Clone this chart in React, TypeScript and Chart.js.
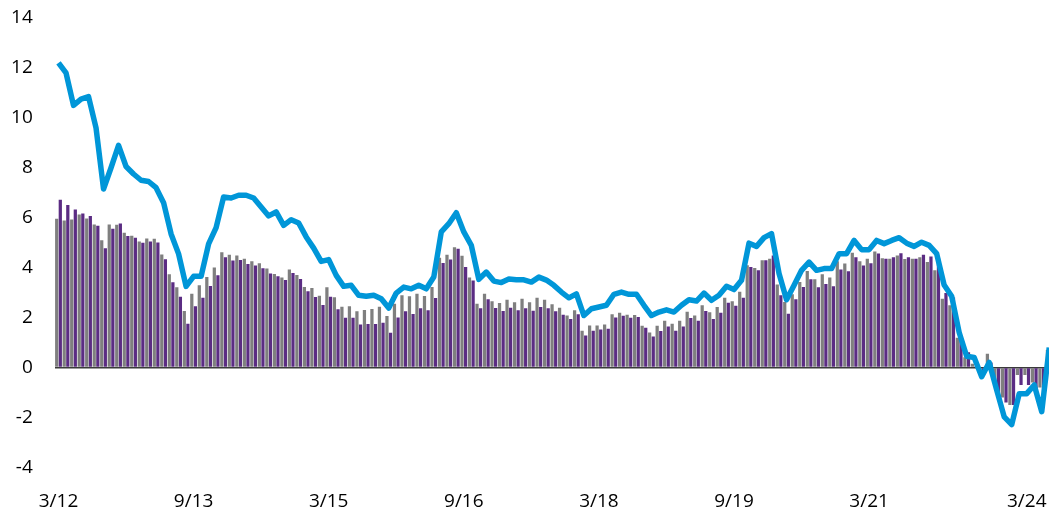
import { useEffect, useRef } from "react";
import { Chart, registerables } from "chart.js";

Chart.register(...registerables);

// Monthly categories, starting March 2012
const startYear = 2012;
const startMonth = 3;
const monthCount = 133;
const categories: string[] = [];
for (let i = 0; i < monthCount; i++) {
  const m = ((startMonth - 1 + i) % 12) + 1;
  const y = startYear + Math.floor((startMonth - 1 + i) / 12);
  categories.push(`${m}/${String(y).slice(2)}`);
}

// Shown tick labels and the category index each one sits on
const tickLabelTexts = ["3/12", "9/13", "3/15", "9/16", "3/18", "9/19", "3/21", "3/24"];
const tickLabelIndices = [0, 18, 36, 54, 72, 90, 108, 129];

const yTickMin = -4;
const yTickMax = 14;
const yTickStep = 2;

const grayValues = [
  5.96, 5.89, 5.93, 6.13, 5.97, 5.73, 5.1, 5.73, 5.72, 5.4,
  5.28, 5.05, 5.17, 5.16, 4.53, 3.73, 3.21, 2.26, 2.95, 3.29,
  3.62, 4.0, 4.62, 4.52, 4.49, 4.36, 4.25, 4.17, 3.96, 3.74,
  3.6, 3.92, 3.7, 3.22, 3.18, 2.87, 3.21, 2.81, 2.43, 2.45,
  2.25, 2.3, 2.34, 2.43, 2.06, 2.55, 2.89, 2.85, 2.95, 2.86,
  3.22, 4.4, 4.52, 4.82, 4.48, 3.6, 2.55, 2.95, 2.65, 2.58,
  2.71, 2.61, 2.75, 2.61, 2.79, 2.71, 2.53, 2.39, 2.08, 2.29,
  1.47, 1.68, 1.68, 1.72, 2.13, 2.19, 2.11, 2.1, 1.67, 1.4,
  1.67, 1.87, 1.75, 1.87, 2.23, 2.08, 2.49, 2.21, 2.42, 2.79,
  2.65, 3.03, 4.09, 3.98, 4.29, 4.36, 3.32, 2.62, 2.93, 3.42,
  3.86, 3.53, 3.73, 3.6, 4.25, 4.16, 4.6, 4.25, 4.36, 4.65,
  4.38, 4.36, 4.49, 4.34, 4.36, 4.42, 4.22, 3.89, 2.75, 2.49,
  1.19, 0.41, 0.15, -0.1, 0.55, -0.6, -1.2, -1.5, -0.3, -0.3,
  -0.6, -0.8, 0.7,
];

const purpleValues = [
  6.72, 6.51, 6.33, 6.17, 6.07, 5.68, 4.78, 5.56, 5.77, 5.27,
  5.2, 5.0, 5.05, 5.01, 4.33, 3.41, 2.83, 1.75, 2.45, 2.79,
  3.26, 3.69, 4.42, 4.28, 4.3, 4.14, 4.08, 3.97, 3.76, 3.65,
  3.5, 3.78, 3.54, 3.05, 2.82, 2.5, 2.83, 2.33, 1.99, 1.99,
  1.72, 1.74, 1.74, 1.79, 1.39, 2.0, 2.25, 2.14, 2.37, 2.29,
  2.78, 4.18, 4.32, 4.76, 4.02, 3.48, 2.37, 2.73, 2.38, 2.26,
  2.39, 2.29, 2.37, 2.27, 2.42, 2.37, 2.25, 2.11, 1.94, 2.13,
  1.28, 1.47, 1.52, 1.55, 2.0, 2.07, 1.99, 2.02, 1.59, 1.24,
  1.46, 1.64, 1.47, 1.64, 1.98, 1.87, 2.26, 1.94, 2.19, 2.59,
  2.47, 2.79, 4.02, 3.89, 4.29, 4.49, 2.89, 2.15, 2.73, 3.22,
  3.53, 3.21, 3.34, 3.25, 3.92, 3.85, 4.42, 4.08, 4.17, 4.57,
  4.36, 4.42, 4.58, 4.42, 4.36, 4.52, 4.45, 4.4, 2.98, 2.8,
  1.1, 0.61, 0.05, -0.2, 0.2, -1.0, -1.4, -1.5, -0.7, -0.7,
  -0.9, -1.0, 0.6,
];

const lineValues = [
  12.2, 11.8, 10.5, 10.75, 10.85, 9.6, 7.15, 8.0, 8.9, 8.05,
  7.75, 7.5, 7.45, 7.2, 6.6, 5.35, 4.55, 3.25, 3.65, 3.65,
  4.95, 5.6, 6.83, 6.79, 6.9, 6.9, 6.79, 6.43, 6.07, 6.23,
  5.69, 5.92, 5.79, 5.23, 4.78, 4.25, 4.32, 3.69, 3.25, 3.29,
  2.89, 2.85, 2.89, 2.75, 2.38, 2.98, 3.22, 3.15, 3.29, 3.15,
  3.62, 5.43, 5.76, 6.2, 5.43, 4.89, 3.53, 3.82, 3.46, 3.4,
  3.54, 3.51, 3.51, 3.42, 3.62, 3.5, 3.29, 3.02, 2.79, 2.95,
  2.08, 2.35, 2.42, 2.49, 2.93, 3.02, 2.93, 2.93, 2.49, 2.08,
  2.22, 2.31, 2.22, 2.49, 2.71, 2.66, 2.98, 2.69, 2.89, 3.25,
  3.12, 3.49, 4.98, 4.85, 5.2, 5.36, 3.76, 2.71, 3.29, 3.89,
  4.22, 3.89, 3.96, 3.96, 4.56, 4.56, 5.09, 4.72, 4.72, 5.09,
  4.96, 5.09, 5.2, 4.98, 4.85, 5.02, 4.89, 4.56, 3.3, 2.85,
  1.4, 0.45, 0.4, -0.37, 0.2, -0.9, -1.98, -2.29, -1.05, -1.05,
  -0.7, -1.77, 0.8,
];

const FONT = "'Open Sans', 'Noto Sans', sans-serif";

export default function App() {
  const ref = useRef<HTMLCanvasElement | null>(null);

  useEffect(() => {
    document.documentElement.style.overflow = "hidden";
    document.body.style.overflow = "hidden";
    const canvas = ref.current;
    if (!canvas) return;
    const chart = new Chart(canvas, {
      type: "bar",
      data: {
        labels: categories,
        datasets: [
          {
            type: "line",
            label: "line",
            data: lineValues,
            borderColor: "#0096D8",
            borderWidth: 5.5,
            pointRadius: 0,
            tension: 0,
            borderJoinStyle: "round",
            borderCapStyle: "butt",
            order: 0,
          } as any,
          {
            label: "gray",
            data: grayValues,
            backgroundColor: "#7F7F7F",
            categoryPercentage: 0.96,
            barPercentage: 0.9,
            order: 1,
          },
          {
            label: "purple",
            data: purpleValues,
            backgroundColor: "#5B2C83",
            categoryPercentage: 0.96,
            barPercentage: 0.9,
            order: 1,
          },
        ],
      },
      options: {
        animation: false,
        responsive: false,
        devicePixelRatio: 1,
        layout: { padding: { top: 18, left: 0, right: 0, bottom: 0 } },
        plugins: {
          legend: { display: false },
          tooltip: { enabled: false },
        },
        scales: {
          x: {
            offset: true,
            grid: { display: false },
            border: { display: false },
            afterFit: (s: any) => {
              s.height = 42.7;
              s.paddingLeft = 0;
              s.paddingRight = 0;
            },
            ticks: {
              autoSkip: false,
              maxRotation: 0,
              minRotation: 0,
              padding: 15,
              color: "#000000",
              font: { family: FONT, size: 19 },
              callback: (_v: any, i: number) => {
                const k = tickLabelIndices.indexOf(i);
                return k >= 0 ? tickLabelTexts[k] : null;
              },
            },
          },
          y: {
            min: yTickMin,
            max: yTickMax,
            afterFit: (s: any) => {
              s.width = 54.75;
              s.paddingTop = 0;
              s.paddingBottom = 0;
            },
            border: { display: false },
            grid: {
              drawTicks: false,
              color: (c: any) => (c.tick && c.tick.value === 0 ? "#3A3A3A" : "rgba(0,0,0,0)"),
              lineWidth: (c: any) => (c.tick && c.tick.value === 0 ? 1.6 : 0),
            },
            ticks: {
              stepSize: yTickStep,
              padding: 22,
              color: "#000000",
              font: { family: FONT, size: 19 },
            },
          },
        },
      },
    });
    return () => chart.destroy();
  }, []);

  return (
    <canvas
      ref={ref}
      width={1053}
      height={510}
      style={{ position: "fixed", left: 0, top: 0, width: 1053, height: 510 }}
    />
  );
}
